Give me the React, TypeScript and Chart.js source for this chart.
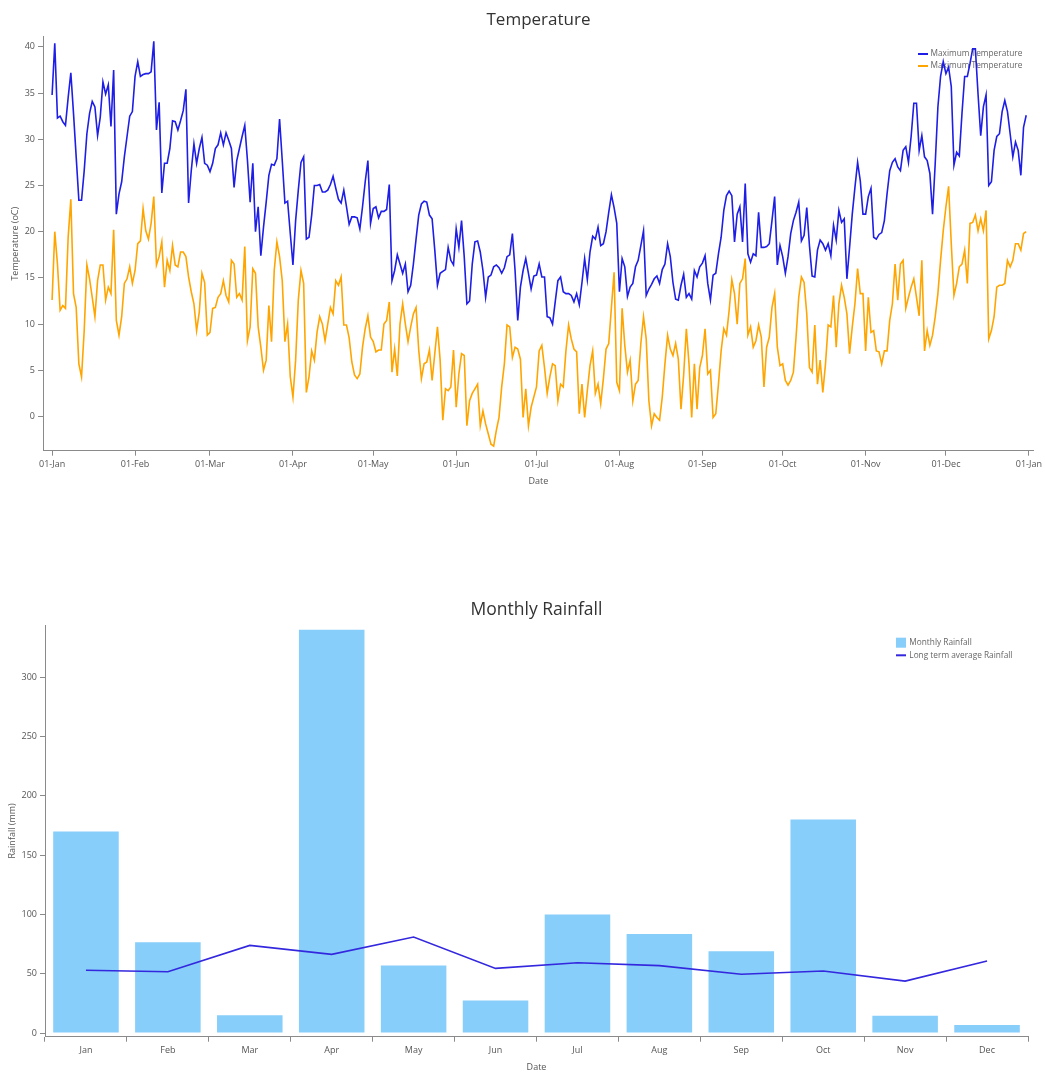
import React, { useEffect, useRef } from "react";
import { Chart, registerables } from "chart.js";

Chart.register(...registerables);

const FONT = "'Open Sans', 'Noto Sans', sans-serif";

// Daily maximum temperature (series 1), one value per day, Jan 1 .. Dec 31
const maxTemperature = [
  34.8, 40.4, 32.3, 32.5, 31.9, 31.5, 34.5, 37.2, 32.8, 28.1, 23.4, 23.4, 26.6, 30.6, 32.8, 34.1, 33.5, 30.4, 32.4, 36.2, 34.9, 35.9, 31.4, 37.5, 21.9, 24.1, 25.4, 28.1, 30.3, 32.5, 33.0,
  36.8, 38.4, 36.8, 37.0, 37.1, 37.1, 37.3, 40.6, 31.0, 34.0, 24.2, 27.4, 27.4, 29.0, 32.0, 31.9, 31.0, 32.0, 33.1, 35.4, 23.1, 26.6, 29.5, 27.4, 29.0, 30.2, 27.4, 27.2,
  26.5, 27.4, 29.0, 29.4, 30.7, 29.4, 30.7, 29.9, 29.0, 24.8, 27.7, 29.0, 30.3, 31.5, 27.7, 23.2, 27.4, 20.0, 22.7, 17.4, 20.5, 23.2, 26.1, 27.3, 27.2, 27.9, 32.2, 27.7, 23.1, 23.3, 19.8,
  16.4, 21.2, 24.5, 27.5, 28.1, 19.2, 19.4, 21.8, 25.0, 25.0, 25.1, 24.3, 24.3, 24.5, 25.1, 26.0, 24.7, 23.5, 23.1, 24.5, 22.7, 20.8, 21.6, 21.6, 21.5, 20.3, 22.7, 25.4, 27.7, 20.9,
  22.5, 22.7, 21.5, 22.2, 22.2, 22.4, 25.1, 14.7, 15.8, 17.5, 16.5, 15.5, 16.5, 13.5, 14.2, 16.5, 19.2, 21.8, 23.0, 23.3, 23.2, 21.8, 21.4, 18.0, 14.2, 15.5, 15.7, 15.9, 18.3, 16.9, 16.4,
  20.3, 18.3, 21.2, 17.3, 12.2, 12.5, 16.5, 18.9, 19.0, 17.8, 15.8, 12.9, 15.1, 15.3, 16.2, 16.4, 16.1, 15.5, 16.1, 17.3, 17.5, 19.8, 15.8, 10.4, 14.0, 15.8, 17.1, 15.5, 13.8, 15.2,
  15.3, 16.5, 15.1, 15.1, 10.8, 10.7, 10.0, 12.4, 14.7, 15.1, 13.5, 13.3, 13.3, 13.1, 12.4, 13.3, 12.1, 14.5, 17.1, 14.8, 17.8, 19.5, 19.2, 20.5, 18.5, 18.7, 20.0, 22.1, 24.0, 22.6, 20.9,
  13.5, 17.1, 16.2, 13.0, 14.0, 14.4, 16.2, 16.9, 18.5, 20.1, 13.1, 13.8, 14.3, 14.9, 15.2, 14.4, 15.9, 16.5, 18.7, 17.3, 14.5, 12.7, 12.6, 14.2, 15.4, 12.9, 13.3, 12.7, 15.8, 15.1, 16.2,
  16.6, 17.4, 14.4, 12.6, 15.3, 15.5, 17.6, 19.4, 22.3, 23.9, 24.4, 23.9, 18.9, 21.9, 22.7, 18.9, 25.2, 17.6, 16.7, 17.6, 17.4, 22.1, 18.3, 18.3, 18.4, 18.7, 21.2, 23.8, 16.4, 18.5,
  17.3, 15.5, 17.3, 19.8, 21.2, 22.1, 23.2, 19.0, 19.6, 22.6, 18.5, 15.2, 15.1, 18.0, 19.1, 18.7, 18.0, 18.7, 17.4, 20.7, 19.1, 22.3, 21.0, 21.4, 14.9, 18.3, 21.9, 24.8, 27.5, 25.5, 21.9,
  21.9, 23.8, 24.7, 19.4, 19.2, 19.7, 19.9, 21.2, 24.1, 26.6, 27.5, 27.9, 27.0, 26.6, 28.8, 29.2, 27.5, 30.3, 33.9, 33.9, 28.8, 30.4, 28.1, 27.7, 26.3, 21.9, 27.4, 33.5, 36.8, 38.4,
  37.1, 37.8, 35.7, 27.2, 28.6, 28.2, 32.8, 36.8, 36.8, 38.2, 39.8, 39.8, 34.9, 30.4, 33.5, 34.8, 25.0, 25.4, 28.8, 30.3, 30.6, 33.0, 34.2, 33.0, 30.6, 28.1, 29.7, 28.8, 26.1, 31.3, 32.6,
];

// Daily minimum temperature (series 2, labelled "Maximum Temperature" in the original)
const minTemperature = [
  12.6, 20.0, 16.5, 11.5, 12.0, 11.7, 19.4, 23.5, 13.3, 11.8, 5.7, 4.3, 9.3, 16.4, 14.9, 12.9, 10.8, 14.7, 16.4, 16.4, 12.6, 14.0, 13.3, 20.2, 10.4, 8.8, 10.8, 14.4, 14.9, 16.2, 14.4,
  15.8, 18.7, 19.0, 22.5, 20.1, 19.2, 20.9, 23.8, 16.4, 17.3, 18.9, 14.0, 16.9, 15.8, 18.5, 16.4, 16.2, 17.8, 17.8, 17.3, 15.1, 13.5, 12.2, 9.3, 11.3, 15.5, 14.5, 8.8,
  9.1, 11.7, 11.8, 12.9, 13.3, 14.7, 13.1, 12.4, 16.9, 16.5, 12.9, 13.3, 12.6, 18.4, 8.2, 9.7, 16.0, 15.5, 9.7, 7.5, 5.0, 6.1, 12.0, 8.1, 15.8, 18.9, 17.3, 14.7, 8.1, 10.0, 4.3,
  2.1, 6.1, 12.6, 15.8, 14.4, 2.6, 4.3, 7.1, 6.1, 9.1, 10.8, 10.0, 8.2, 10.0, 11.8, 11.1, 14.7, 14.2, 15.1, 9.9, 9.9, 8.5, 5.9, 4.5, 4.1, 4.6, 7.5, 9.5, 10.9, 8.6,
  8.1, 7.0, 7.2, 7.2, 10.0, 10.4, 12.4, 4.8, 7.3, 4.4, 10.0, 12.2, 10.0, 8.1, 9.7, 11.1, 11.8, 7.2, 4.1, 5.7, 5.9, 7.2, 3.9, 6.8, 9.7, 6.1, -0.4, 3.0, 2.8, 3.2, 7.2,
  1.0, 4.6, 6.8, 6.6, -1.0, 1.7, 2.5, 3.0, 3.5, -1.0, 0.6, -0.8, -1.9, -3.0, -3.2, -1.5, -0.1, 3.2, 5.7, 9.9, 9.7, 6.4, 7.5, 7.3, 6.2, -0.1, 3.0, -1.0, 1.0, 2.1,
  3.2, 7.1, 7.7, 5.3, 2.5, 4.3, 5.7, 5.5, 1.7, 3.5, 3.2, 7.1, 9.9, 8.4, 7.3, 7.0, 0.3, 3.5, -0.1, 2.8, 5.5, 7.1, 2.5, 3.5, 1.4, 4.1, 7.3, 7.9, 11.8, 15.6, 3.7,
  2.8, 11.7, 7.7, 4.8, 6.1, 1.7, 3.5, 3.9, 7.9, 10.8, 8.4, 1.7, -1.0, 0.3, -0.1, -0.4, 2.1, 5.7, 8.8, 7.3, 6.6, 7.9, 6.2, 0.8, 4.5, 9.5, 5.7, -0.1, 5.7, 0.8, 5.3,
  6.6, 9.5, 4.6, 5.0, -0.1, 0.3, 3.5, 7.1, 9.5, 8.8, 11.5, 14.8, 13.3, 10.0, 14.4, 14.9, 17.1, 8.8, 9.7, 7.5, 8.2, 9.9, 8.6, 3.2, 7.5, 8.6, 11.8, 13.3, 7.5, 5.5,
  5.7, 3.9, 3.4, 3.9, 4.8, 8.6, 12.9, 15.1, 14.5, 11.1, 5.3, 4.8, 9.9, 3.5, 6.1, 2.6, 5.7, 9.9, 9.7, 13.1, 7.5, 12.2, 14.2, 12.9, 11.1, 6.8, 9.7, 12.2, 16.0, 13.3, 13.3,
  7.1, 12.9, 9.1, 9.3, 7.1, 7.0, 5.7, 7.1, 7.1, 10.4, 12.2, 16.5, 12.6, 16.5, 16.9, 11.7, 12.9, 14.0, 14.9, 12.9, 10.9, 16.9, 7.1, 9.3, 7.7, 8.8, 10.8, 13.3, 16.9, 20.1,
  22.7, 24.9, 18.7, 13.1, 14.4, 16.2, 16.5, 18.0, 14.4, 20.9, 21.0, 21.8, 20.1, 21.4, 20.1, 22.3, 8.4, 9.3, 10.8, 14.0, 14.2, 14.2, 14.4, 16.9, 16.2, 16.9, 18.7, 18.7, 18.0, 19.8, 20.0,
];

const monthStartDays = [0, 31, 59, 90, 120, 151, 181, 212, 243, 273, 304, 334, 365];
const monthStartLabels = [
  "01-Jan", "01-Feb", "01-Mar", "01-Apr", "01-May", "01-Jun", "01-Jul",
  "01-Aug", "01-Sep", "01-Oct", "01-Nov", "01-Dec", "01-Jan",
];
const temperatureTicks = [0, 5, 10, 15, 20, 25, 30, 35, 40];

const months = ["Jan", "Feb", "Mar", "Apr", "May", "Jun", "Jul", "Aug", "Sep", "Oct", "Nov", "Dec"];
const monthlyRainfall = [170, 76.5, 15, 340, 57, 27.5, 100, 83.5, 69, 180, 14.6, 6.7];
const longTermAverageRainfall = [52.9, 51.7, 73.9, 66.3, 80.9, 54.5, 59.3, 56.8, 49.5, 52.3, 43.8, 60.7];
const rainfallTicks = [0, 50, 100, 150, 200, 250, 300];

const AXIS_COLOR = "#8a8a8a";
const TICK_COLOR = "#555555";
const TITLE_COLOR = "#333333";
const MAX_COLOR = "rgb(30,30,230)";
const MIN_COLOR = "#ffa500";
const BAR_COLOR = "#87cefa";
const AVG_COLOR = "rgb(52,40,222)";

// Legend drawn inside the plot (top-right) and a title centred over the plot area
const overlayLegend = {
  id: "overlayLegend",
  beforeDatasetsDraw(chart: any, _args: any, opts: any) {
    if (!opts || !opts.display) return;
    const ctx = chart.ctx;
    ctx.save();
    ctx.font = `${opts.fontSize}px ${FONT}`;
    ctx.textBaseline = "middle";
    ctx.textAlign = "left";
    chart.data.datasets.forEach((ds: any, i: number) => {
      const y = opts.y + i * opts.rowHeight;
      const x = opts.x;
      const type = ds.type || chart.config.type;
      if (type === "bar") {
        ctx.fillStyle = ds.backgroundColor;
        ctx.fillRect(x, y - 5, 10, 10);
      } else {
        ctx.strokeStyle = ds.borderColor;
        ctx.lineWidth = 2;
        ctx.beginPath();
        ctx.moveTo(x, y);
        ctx.lineTo(x + 10, y);
        ctx.stroke();
      }
      ctx.fillStyle = opts.color;
      ctx.fillText(ds.label, x + opts.textOffset, y);
    });
    ctx.restore();
  },
};

const plotTitle = {
  id: "plotTitle",
  afterDraw(chart: any, _args: any, opts: any) {
    if (!opts || !opts.text) return;
    const ctx = chart.ctx;
    const area = chart.chartArea;
    ctx.save();
    ctx.font = `${opts.fontSize}px ${FONT}`;
    ctx.fillStyle = opts.color;
    ctx.textAlign = "center";
    ctx.textBaseline = "middle";
    ctx.fillText(opts.text, (area.left + area.right) / 2, opts.y);
    ctx.restore();
  },
};

function tickFont(size = 9) {
  return { family: FONT, size };
}

function TemperatureChart() {
  const ref = useRef<HTMLCanvasElement | null>(null);
  useEffect(() => {
    if (!ref.current) return;
    const chart = new Chart(ref.current, {
      type: "line",
      data: {
        datasets: [
          {
            label: "Maximum Temperature",
            data: maxTemperature.map((v, i) => ({ x: i, y: v })),
            borderColor: MAX_COLOR,
            borderWidth: 1.6,
            pointRadius: 0,
            tension: 0,
            fill: false,
          },
          {
            label: "Maximum Temperature",
            data: minTemperature.map((v, i) => ({ x: i, y: v })),
            borderColor: MIN_COLOR,
            borderWidth: 1.6,
            pointRadius: 0,
            tension: 0,
            fill: false,
          },
        ],
      },
      options: {
        responsive: false,
        animation: false,
        events: [],
        layout: { padding: { top: 36.7, left: 0, right: 10, bottom: 0 } },
        plugins: {
          legend: { display: false },
          tooltip: { enabled: false },
          title: { display: false },
          plotTitle: { text: "Temperature", y: 20, fontSize: 17, color: TITLE_COLOR },
          overlayLegend: {
            display: true,
            x: 918,
            y: 54,
            rowHeight: 12,
            textOffset: 12.5,
            fontSize: 8.3,
            color: "#666666",
          },
        } as any,
        scales: {
          x: {
            type: "linear",
            min: -3.4,
            max: 366.9,
            afterBuildTicks: (s: any) => {
              s.ticks = monthStartDays.map((v) => ({ value: v }));
            },
            afterFit: (s: any) => {
              s.height = 44.3;
            },
            ticks: {
              autoSkip: false,
              maxRotation: 0,
              padding: 3,
              color: TICK_COLOR,
              font: tickFont(9),
              callback: (_v: any, i: number) => monthStartLabels[i],
            },
            grid: { display: true, drawOnChartArea: false, drawTicks: true, tickLength: 5, color: AXIS_COLOR },
            border: { display: true, color: AXIS_COLOR },
            title: {
              display: true,
              text: "Date",
              color: TICK_COLOR,
              font: tickFont(9),
              padding: { top: 0, bottom: 8.6 },
            },
          },
          y: {
            type: "linear",
            min: -3.7,
            max: 41.1,
            afterBuildTicks: (s: any) => {
              s.ticks = temperatureTicks.map((v) => ({ value: v }));
            },
            afterFit: (s: any) => {
              s.width = 43;
            },
            ticks: { padding: 3, color: TICK_COLOR, font: tickFont(9) },
            grid: { display: true, drawOnChartArea: false, drawTicks: true, tickLength: 5, color: AXIS_COLOR },
            border: { display: true, color: AXIS_COLOR },
            title: {
              display: true,
              text: "Temperature (oC)",
              color: TICK_COLOR,
              font: tickFont(9),
              padding: { top: 9.6, bottom: 0 },
            },
          },
        },
      } as any,
      plugins: [overlayLegend, plotTitle],
    });
    return () => chart.destroy();
  }, []);
  return (
    <canvas
      ref={ref}
      width={1045}
      height={495}
      style={{ position: "absolute", left: 0, top: 0, width: 1045, height: 495 }}
    />
  );
}

function RainfallChart() {
  const ref = useRef<HTMLCanvasElement | null>(null);
  useEffect(() => {
    if (!ref.current) return;
    const chart = new Chart(ref.current, {
      type: "bar",
      data: {
        labels: months,
        datasets: [
          {
            type: "bar",
            label: "Monthly Rainfall",
            data: monthlyRainfall,
            backgroundColor: BAR_COLOR,
            borderWidth: 0,
            categoryPercentage: 0.8,
            barPercentage: 1,
            order: 2,
          },
          {
            type: "line",
            label: "Long term average Rainfall",
            data: longTermAverageRainfall,
            borderColor: AVG_COLOR,
            borderWidth: 1.6,
            pointRadius: 0,
            tension: 0,
            fill: false,
            order: 1,
          },
        ],
      } as any,
      options: {
        responsive: false,
        animation: false,
        events: [],
        layout: { padding: { top: 45, left: 0, right: 17, bottom: 0 } },
        plugins: {
          legend: { display: false },
          tooltip: { enabled: false },
          title: { display: false },
          plotTitle: { text: "Monthly Rainfall", y: 30, fontSize: 17.5, color: TITLE_COLOR },
          overlayLegend: {
            display: true,
            x: 896,
            y: 62.7,
            rowHeight: 12.6,
            textOffset: 13.3,
            fontSize: 8.3,
            color: "#666666",
          },
        } as any,
        scales: {
          x: {
            type: "category",
            offset: true,
            afterFit: (s: any) => {
              s.height = 36.3;
            },
            ticks: { autoSkip: false, maxRotation: 0, padding: 3, color: TICK_COLOR, font: tickFont(9) },
            grid: { display: true, offset: true, drawOnChartArea: false, drawTicks: true, tickLength: 5, color: AXIS_COLOR },
            border: { display: true, color: AXIS_COLOR },
            title: {
              display: true,
              text: "Date",
              color: TICK_COLOR,
              font: tickFont(9),
              padding: { top: 0, bottom: 0.6 },
            },
          },
          y: {
            type: "linear",
            min: -3.1,
            max: 344,
            afterBuildTicks: (s: any) => {
              s.ticks = rainfallTicks.map((v) => ({ value: v }));
            },
            afterFit: (s: any) => {
              s.width = 45;
            },
            ticks: { padding: 3, color: TICK_COLOR, font: tickFont(9) },
            grid: { display: true, drawOnChartArea: false, drawTicks: true, tickLength: 5, color: AXIS_COLOR },
            border: { display: true, color: AXIS_COLOR },
            title: {
              display: true,
              text: "Rainfall (mm)",
              color: TICK_COLOR,
              font: tickFont(9),
              padding: { top: 6.6, bottom: 0 },
            },
          },
        },
      } as any,
      plugins: [overlayLegend, plotTitle],
    });
    return () => chart.destroy();
  }, []);
  return (
    <canvas
      ref={ref}
      width={1045}
      height={493}
      style={{ position: "absolute", left: 0, top: 580, width: 1045, height: 493 }}
    />
  );
}

export default function App() {
  return (
    <div
      style={{
        position: "absolute",
        left: 0,
        top: 0,
        width: 1045,
        height: 1073,
        background: "#ffffff",
        overflow: "hidden",
      }}
    >
      <TemperatureChart />
      <RainfallChart />
    </div>
  );
}
